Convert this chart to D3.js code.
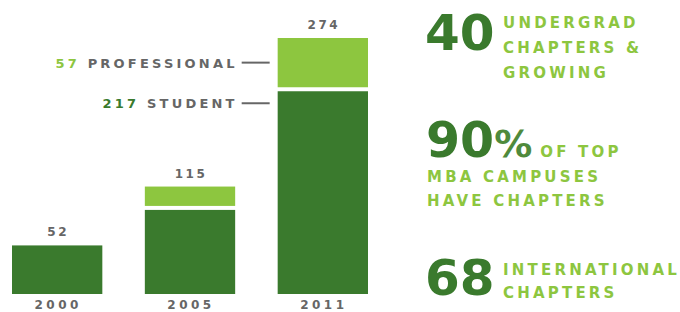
<!DOCTYPE html>
<html>
<head>
<meta charset="utf-8">
<script src="https://cdn.jsdelivr.net/npm/d3@7"></script>
<style>
  body { margin: 0; background: #fff; }
  svg text { font-family: "DejaVu Sans", sans-serif; }
</style>
</head>
<body>
<div id="chart"></div>
<script>
// chapter counts by year
const years = ["2000", "2005", "2011"];
const student = [52, 90, 217];
const professional = [0, 25, 57];
const totals = [52, 115, 274];

// side facts
const factNumbers = ["40", "90", "68"];
const factLines = [
    ["UNDERGRAD", "CHAPTERS &", "GROWING"],
    ["OF TOP", "MBA CAMPUSES", "HAVE CHAPTERS"],
    ["INTERNATIONAL", "CHAPTERS"]
];

const dark = "#3a7a2d", light = "#8dc63f", gray = "#666";
const width = 680, height = 312;

const svg = d3.select("#chart")
    .append("svg")
    .attr("width", width)
    .attr("height", height);

const x = d3.scaleBand()
    .domain(years)
    .range([12, 368])
    .paddingInner(0.32);

const y = d3.scaleLinear()
    .domain([0, 274])
    .range([294, 38]);

const gap = 4;
const rows = years.map((yr, i) => ({ year: yr, student: student[i], pro: professional[i], total: totals[i] }));

// student segments
svg.selectAll("rect.student")
    .data(rows)
    .enter().append("rect")
    .attr("class", "student")
    .attr("x", d => x(d.year))
    .attr("width", x.bandwidth())
    .attr("y", d => y(d.student))
    .attr("height", d => y(0) - y(d.student))
    .attr("fill", dark);

// professional segments
svg.selectAll("rect.pro")
    .data(rows.filter(d => d.pro > 0))
    .enter().append("rect")
    .attr("class", "pro")
    .attr("x", d => x(d.year))
    .attr("width", x.bandwidth())
    .attr("y", d => y(d.student + d.pro))
    .attr("height", d => y(d.student) - y(d.student + d.pro) - gap)
    .attr("fill", light);

// totals above bars
svg.selectAll("text.total")
    .data(rows)
    .enter().append("text")
    .attr("class", "total")
    .attr("x", d => x(d.year) + x.bandwidth() / 2 + 1)
    .attr("y", d => y(d.total) - 9)
    .attr("text-anchor", "middle")
    .attr("fill", gray)
    .style("font-size", "12px")
    .style("font-weight", "bold")
    .style("letter-spacing", "2.5px")
    .text(d => d.total);

// year labels
svg.selectAll("text.year")
    .data(years)
    .enter().append("text")
    .attr("class", "year")
    .attr("x", d => x(d) + x.bandwidth() / 2 + 1)
    .attr("y", 309)
    .attr("text-anchor", "middle")
    .attr("fill", gray)
    .style("font-size", "12px")
    .style("font-weight", "bold")
    .style("letter-spacing", "3.5px")
    .text(d => d);

// callouts for the 2011 bar
const last = rows[rows.length - 1];
const callouts = [
    { num: last.pro, label: "PROFESSIONAL", color: light,
      yy: (y(last.total) + y(last.student) - gap) / 2 },
    { num: last.student, label: "STUDENT", color: dark,
      yy: y(last.student) + 12 }
];
const lineEnd = x(last.year) - 8, lineStart = lineEnd - 28;

callouts.forEach(c => {
    svg.append("line")
        .attr("x1", lineStart).attr("x2", lineEnd)
        .attr("y1", c.yy).attr("y2", c.yy)
        .attr("stroke", gray).attr("stroke-width", 2);
    const t = svg.append("text")
        .attr("x", lineStart - 4)
        .attr("y", c.yy + 5)
        .attr("text-anchor", "end")
        .style("font-size", "13px")
        .style("font-weight", "bold")
        .style("letter-spacing", "3.2px");
    t.append("tspan").attr("fill", c.color).text(c.num + " ");
    t.append("tspan").attr("fill", gray).text(c.label);
});

// facts on the right
const factG = svg.append("g");
const smallText = (sel) => sel
    .attr("fill", light)
    .style("font-size", "15px").style("font-weight", "bold")
    .style("letter-spacing", "3.2px");

// 40
factG.append("text")
    .attr("x", 425).attr("y", 50)
    .attr("fill", dark)
    .style("font-size", "50px").style("font-weight", "bold")
    .text(factNumbers[0]);
factLines[0].forEach((ln, i) => {
    factG.append("text")
        .attr("x", 503).attr("y", 28 + i * 25)
        .call(smallText)
        .text(ln);
});

// 90%
const ninety = factG.append("text")
    .attr("x", 426).attr("y", 157)
    .attr("fill", dark)
    .style("font-weight", "bold");
ninety.append("tspan").style("font-size", "49px").text(factNumbers[1]);
ninety.append("tspan").style("font-size", "38px").attr("fill", "#4f8a3c").text("%");
ninety.append("tspan").attr("dx", 8).call(smallText).text(factLines[1][0]);
factLines[1].slice(1).forEach((ln, i) => {
    factG.append("text")
        .attr("x", 427).attr("y", 182 + i * 24)
        .call(smallText)
        .text(ln);
});

// 68
factG.append("text")
    .attr("x", 425).attr("y", 295)
    .attr("fill", dark)
    .style("font-size", "50px").style("font-weight", "bold")
    .text(factNumbers[2]);
factLines[2].forEach((ln, i) => {
    factG.append("text")
        .attr("x", 503).attr("y", 275 + i * 23)
        .call(smallText)
        .text(ln);
});
</script>
</body>
</html>
